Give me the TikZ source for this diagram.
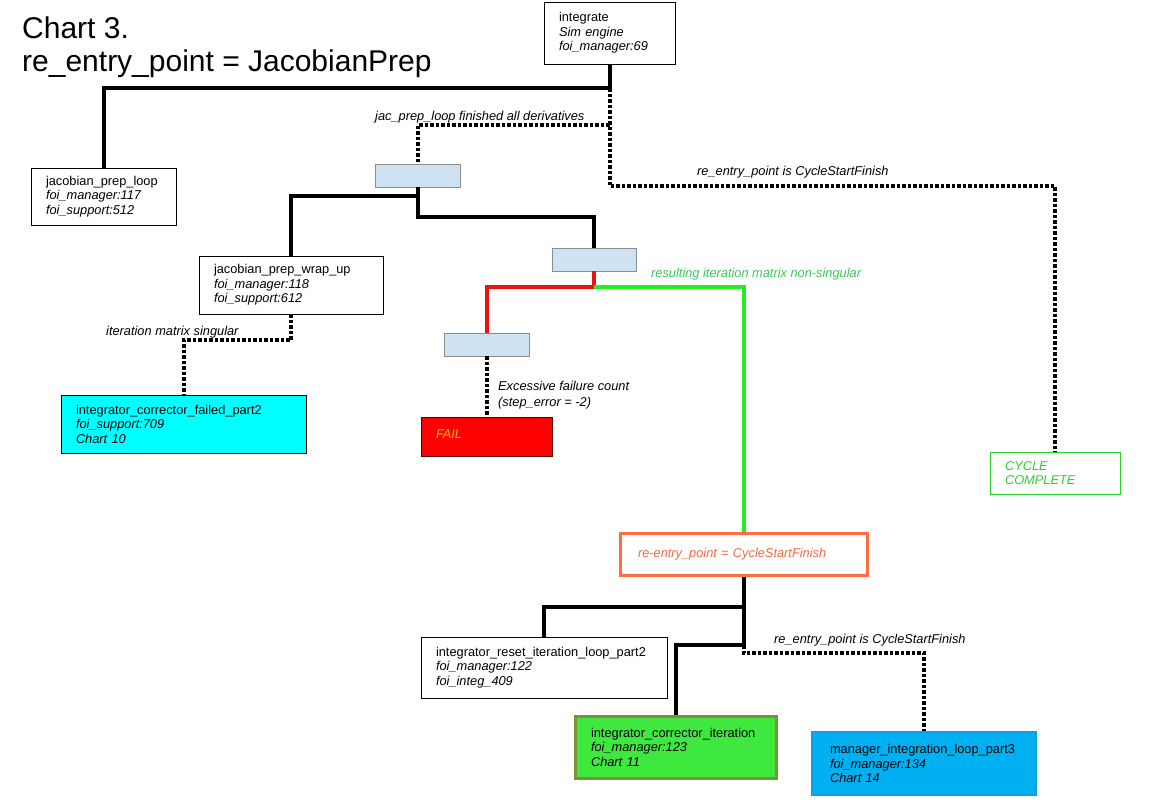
\documentclass[tikz,border=0pt]{standalone}
\usepackage{fontspec}
\setmainfont{Liberation Sans}
\definecolor{lb}{HTML}{CFE2F3}
\definecolor{lbb}{HTML}{8C8C8C}
\definecolor{cyanf}{HTML}{00FFFF}
\definecolor{failt}{HTML}{FFC000}
\definecolor{cyc}{HTML}{2BD22B}
\definecolor{labg}{HTML}{3CC85A}
\definecolor{lineg}{HTML}{22EE22}
\definecolor{liner}{HTML}{EE1111}
\definecolor{orng}{HTML}{FF6E40}
\definecolor{orngt}{HTML}{F06A45}
\definecolor{grf}{HTML}{3EE83E}
\definecolor{grb}{HTML}{77933C}
\definecolor{blf}{HTML}{00B0F0}
\definecolor{blb}{HTML}{0AA0E8}
\begin{document}
\begin{tikzpicture}[x=1pt,y=-1pt,
  bx/.style={draw=black, line width=0.8pt, align=left, inner xsep=15pt, inner ysep=0pt,
     font=\fontsize{12.8}{14.5}\selectfont, anchor=center},
  sqbox/.style={draw=lbb, fill=lb, line width=0.8pt, minimum height=23pt, inner sep=0pt, anchor=center},
  thk/.style={line width=4pt, black},
  dotline/.style={line width=4pt, black, dash pattern=on 3.5pt off 2pt},
  lab/.style={font=\fontsize{12.8}{14.5}\selectfont\itshape, inner sep=0pt, anchor=west, align=left}
]
\useasboundingbox (0,0) rectangle (1158,809);
\fill[white] (0,0) rectangle (1158,809);

% title
\node[anchor=base west, inner sep=0pt, font=\fontsize{30}{33}\selectfont] (t1) at (22,38) {Chart 3.};
\node[anchor=base west, inner sep=0pt, font=\fontsize{30}{33}\selectfont] (t2) at (22,71) {re\_entry\_point = JacobianPrep};

% boxes
\node[bx, text width=101pt, minimum height=62pt] (integ) at (609.5,33)
  {integrate\\\textit{Sim engine}\\\textit{foi\_manager:69}};
\node[bx, text width=115pt, minimum height=57pt] (jpl) at (103.5,196.5)
  {jacobian\_prep\_loop\\\textit{foi\_manager:117}\\\textit{foi\_support:512}};
\node[sqbox, minimum width=85pt] (b1) at (417.5,175.5) {};
\node[sqbox, minimum width=84pt] (b2) at (594,259.5) {};
\node[sqbox, minimum width=85pt] (b3) at (486.5,344.5) {};
\node[bx, text width=154pt, minimum height=58pt] (jpwu) at (291,285)
  {jacobian\_prep\_wrap\_up\\\textit{foi\_manager:118}\\\textit{foi\_support:612}};
\node[bx, fill=cyanf, text width=215pt, minimum height=58pt] (cyan) at (183.5,424)
  {integrator\_corrector\_failed\_part2\\\textit{foi\_support:709}\\\textit{Chart 10}};
\node[bx, draw=black!70!red, fill=red, text width=101pt, minimum height=39pt, text=failt] (fail) at (486.5,436.5)
  {\raisebox{5pt}{\textit{FAIL}}};
\node[bx, draw=cyc, text=cyc, text width=100pt, minimum height=42pt] (cycle) at (1055,473)
  {\textit{CYCLE}\\\textit{COMPLETE}};
\node[bx, draw=orng, line width=3pt, text=orngt, inner xsep=18pt, text width=211pt, minimum height=42pt] (orange) at (743.5,554)
  {\raisebox{3pt}{\textit{re-entry\_point = CycleStartFinish}}};
\node[bx, text width=216pt, minimum height=61pt] (reset) at (544,667.5)
  {integrator\_reset\_iteration\_loop\_part2\\\textit{foi\_manager:122}\\\textit{foi\_integ\_409}};
\node[bx, draw=grb, line width=3pt, fill=grf, inner xsep=16pt, text width=169pt, minimum height=62pt] (green) at (675.5,747)
  {integrator\_corrector\_iteration\\\textit{foi\_manager:123}\\\textit{Chart 11}};
\node[bx, draw=blb, line width=2pt, fill=blf, inner xsep=18pt, text width=188pt, minimum height=63pt] (blue) at (924,763.5)
  {manager\_integration\_loop\_part3\\\textit{foi\_manager:134}\\\textit{Chart 14}};

% junction coordinates
\coordinate (j1) at (609.5,88);
\coordinate (j2) at (609.5,125);
\coordinate (j3) at (609.5,186);
\coordinate (k1) at (417.5,196);
\coordinate (k2) at (417.5,217);
\coordinate (r1) at (594,287);
\coordinate (m1) at (743.5,607);
\coordinate (m2) at (743.5,645);
\coordinate (m3) at (743.5,653);

% connectors
\draw[thk] (integ.south) -- (j1) -| (jpl.north);
\draw[dotline] (j1) -- (j3) -| (cycle.north);
\draw[dotline] (j2) -| (b1.north);
\draw[thk] (b1.south) -- (k1) -| (jpwu.north);
\draw[thk] (k1) -- (k2) -| (b2.north);
\draw[dotline] (jpwu.south) -- ++(0,26) -| (cyan.north);
\draw[line width=4pt, liner] (b2.south) -- (r1) -| (b3.north);
\draw[line width=4pt, lineg] (r1) -| (orange.north);
\draw[dotline] (b3.south) -- (fail.north);
\draw[thk] (orange.south) -- (m1) -| (reset.north);
\draw[thk] (m1) -- (m2) -| (green.north);
\draw[dotline] (m2) -- (m3) -| (blue.north);

% labels
\node[lab] (l1) at (375,117) {jac\_prep\_loop finished all derivatives};
\node[lab] (l2) at (697,172) {re\_entry\_point is CycleStartFinish};
\node[lab] (l3) at (106,332) {iteration matrix singular};
\node[lab, text=labg] (l4) at (651,274) {resulting iteration matrix non-singular};
\node[lab, font=\fontsize{12.8}{16}\selectfont\itshape] (l5) at (498,395) {Excessive failure count\\(step\_error = -2)};
\node[lab] (l6) at (774,640) {re\_entry\_point is CycleStartFinish};
\end{tikzpicture}
\end{document}
